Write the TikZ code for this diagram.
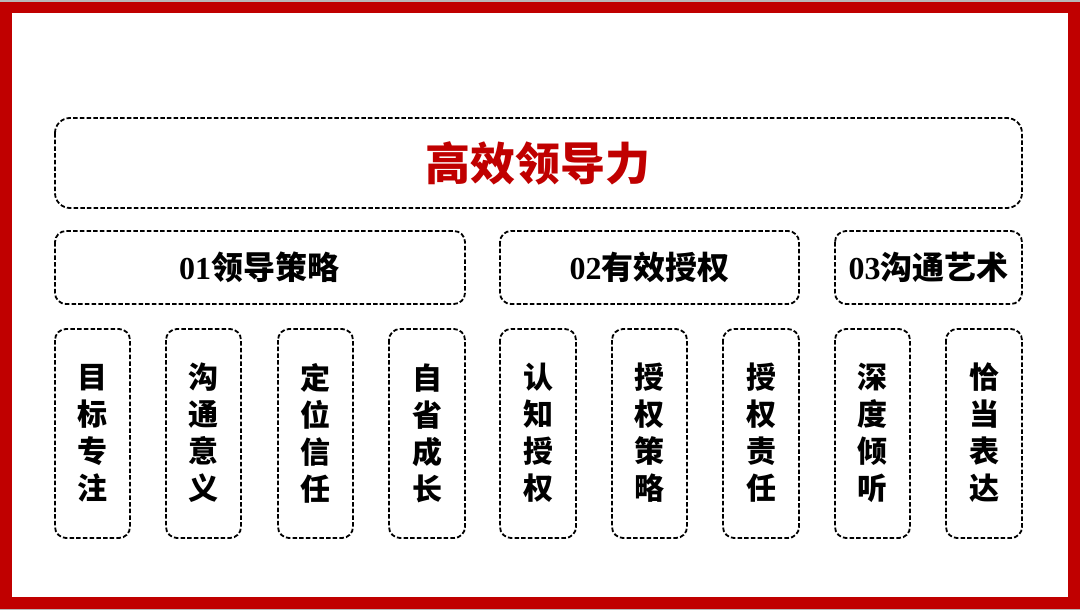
\documentclass[tikz,border=0pt]{standalone}
\usepackage{fontspec}
\newfontfamily\cjk{Noto Sans CJK SC}[BoldFont={Noto Sans CJK SC Black}]
\newfontfamily\digs{Liberation Serif}
\definecolor{frame}{HTML}{C00000}
\begin{document}
\begin{tikzpicture}[x=1pt,y=-1pt,
  dbox/.style={draw=black, line width=1.8pt, dash pattern=on 4.5pt off 2.2pt, rounded corners=11pt},
  ttl/.style={font={\cjk\bfseries\fontsize{45}{50}\selectfont}, text=frame},
  sub/.style={font={\bfseries\fontsize{32}{36}\selectfont}},
  col/.style={font={\cjk\bfseries\fontsize{30}{37}\selectfont}, align=center}]
\useasboundingbox (0,0) rectangle (1080,610);
\fill[gray!55] (0,0) rectangle (1080,610);
\fill[white] (0,2) rectangle (1080,609);
\draw[frame, line width=11.5pt] (6,7.5) rectangle (1074,603);
% title
\draw[dbox, rounded corners=15pt] (55,118) rectangle (1022,208);
\node[ttl] (title) at (538,163) {高效领导力};
% row 2
\draw[dbox] (55,231) rectangle (465,304);
\draw[dbox] (500,231) rectangle (799,304);
\draw[dbox] (835,231) rectangle (1022,304);
\node[sub] (s1) at (259,267.5) {{\digs\bfseries 01}{\cjk\bfseries 领导策略}};
\node[sub] (s2) at (649.5,267.5) {{\digs\bfseries 02}{\cjk\bfseries 有效授权}};
\node[sub] (s3) at (928.5,267.5) {{\digs\bfseries 03}{\cjk\bfseries 沟通艺术}};
% columns
\foreach \xl/\xr/\t [count=\i] in {55/130/目\\标\\专\\注, 166/241/沟\\通\\意\\义, 278/353/定\\位\\信\\任, 389/465/自\\省\\成\\长, 500/576/认\\知\\授\\权, 612/687/授\\权\\策\\略, 723/799/授\\权\\责\\任, 835/910/深\\度\\倾\\听, 946/1022/恰\\当\\表\\达}{
  \draw[dbox] (\xl,329) rectangle (\xr,538);
  \node[col] (c\i) at ({(\xl+\xr)/2},433) {\t};
}
\end{tikzpicture}
\end{document}
